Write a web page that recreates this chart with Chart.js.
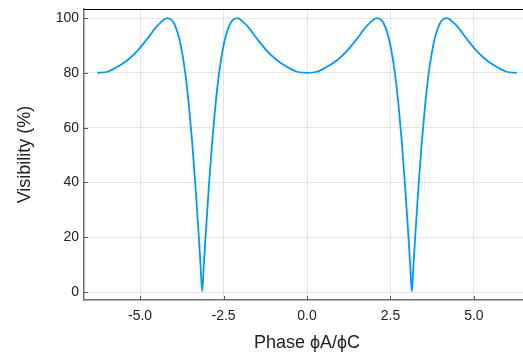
<!DOCTYPE html>
<html lang="en">
<head>
<meta charset="UTF-8">
<title>Visibility vs Phase</title>
<script src="https://cdn.jsdelivr.net/npm/chart.js@4.4.0/dist/chart.umd.min.js"></script>
<style>
  html, body { margin: 0; padding: 0; background: #fff; overflow: hidden; }
  #chart { display: block; }
</style>
</head>
<body>
<canvas id="chart" width="530" height="356"></canvas>
<script>
// values
const phase = [
  -6.28, -5.98, -5.68, -5.38, -5.08, -4.78, -4.48, -4.18, -4.04, -3.94, -3.84, -3.74, -3.64, -3.54, -3.44, -3.34, -3.24, -3.19, -3.14,
  -3.09, -3.04, -2.94, -2.84, -2.74, -2.64, -2.54, -2.44, -2.34, -2.24, -2.10, -1.80, -1.50, -1.20, -0.90, -0.60, -0.30, 0.00,
  0.30, 0.60, 0.90, 1.20, 1.50, 1.80, 2.10, 2.24, 2.34, 2.44, 2.54, 2.64, 2.74, 2.84, 2.94, 3.04, 3.09, 3.14,
  3.19, 3.24, 3.34, 3.44, 3.54, 3.64, 3.74, 3.84, 3.94, 4.04, 4.18, 4.48, 4.78, 5.08, 5.38, 5.68, 5.98, 6.28
];
const visibility = [
  80.0, 80.4, 82.2, 84.6, 88.0, 92.5, 97.2, 100.0, 99.1, 96.9, 93.2, 87.4, 79.3, 68.4, 54.8, 38.5, 20.0, 10.0, 0.3,
  10.0, 20.0, 38.5, 54.8, 68.4, 79.3, 87.4, 93.2, 96.9, 99.1, 100.0, 97.2, 92.5, 88.0, 84.6, 82.2, 80.4, 80.0,
  80.4, 82.2, 84.6, 88.0, 92.5, 97.2, 100.0, 99.1, 96.9, 93.2, 87.4, 79.3, 68.4, 54.8, 38.5, 20.0, 10.0, 0.3,
  10.0, 20.0, 38.5, 54.8, 68.4, 79.3, 87.4, 93.2, 96.9, 99.1, 100.0, 97.2, 92.5, 88.0, 84.6, 82.2, 80.4, 80.0
];
const xTicks = [-5, -2.5, 0, 2.5, 5];
const yTicks = [0, 20, 40, 60, 80, 100];

const FONT = "'Liberation Sans', Arial, sans-serif";

// top frame line and small inward tick marks
const frame = {
  id: 'frame',
  afterDraw(chart) {
    const { ctx, chartArea: a, scales } = chart;
    ctx.save();
    ctx.strokeStyle = '#000';
    ctx.lineWidth = 1.2;
    ctx.beginPath();
    ctx.moveTo(a.left, a.top + 0.5);
    ctx.lineTo(a.right, a.top + 0.5);
    ctx.stroke();

    ctx.strokeStyle = '#555';
    ctx.lineWidth = 1;
    ctx.beginPath();
    xTicks.forEach(v => {
      const px = Math.round(scales.x.getPixelForValue(v)) + 0.5;
      ctx.moveTo(px, a.bottom);
      ctx.lineTo(px, a.bottom - 4);
    });
    yTicks.forEach(v => {
      const py = Math.round(scales.y.getPixelForValue(v)) + 0.5;
      ctx.moveTo(a.left, py);
      ctx.lineTo(a.left + 4, py);
    });
    ctx.stroke();
    ctx.restore();
  }
};

new Chart(document.getElementById('chart'), {
  type: 'line',
  data: {
    datasets: [{
      data: phase.map((p, i) => ({ x: p, y: visibility[i] })),
      borderColor: '#009AFA',
      borderWidth: 1.8,
      pointRadius: 0,
      cubicInterpolationMode: 'monotone',
      fill: false
    }]
  },
  options: {
    responsive: false,
    animation: false,
    devicePixelRatio: 1,
    layout: { padding: { top: 9, left: 0, right: 0, bottom: 0 } },
    plugins: { legend: { display: false }, tooltip: { enabled: false } },
    scales: {
      x: {
        type: 'linear',
        min: -6.68,
        max: 6.68,
        afterBuildTicks: s => { s.ticks = xTicks.map(v => ({ value: v })); },
        afterFit: s => { s.height = 56; s.paddingLeft = 0; s.paddingRight = 0; },
        grid: { color: 'rgba(0,0,0,0.1)', drawTicks: false },
        border: { color: '#707070', width: 1.5 },
        ticks: {
          padding: 8,
          color: '#222',
          font: { family: FONT, size: 14 },
          callback: v => v.toFixed(1)
        },
        title: {
          display: true,
          text: 'Phase ϕA/ϕC',
          color: '#222',
          font: { family: FONT, size: 18 },
          padding: { top: 0, bottom: 2 }
        }
      },
      y: {
        min: -2.9,
        max: 103.3,
        afterBuildTicks: s => { s.ticks = yTicks.map(v => ({ value: v })); },
        afterFit: s => { s.width = 84; s.paddingTop = 0; s.paddingBottom = 0; },
        grid: { color: 'rgba(0,0,0,0.1)', drawTicks: false },
        border: { color: '#707070', width: 1.5 },
        ticks: {
          padding: 5,
          color: '#222',
          font: { family: FONT, size: 14 }
        },
        title: {
          display: true,
          text: 'Visibility (%)',
          color: '#222',
          font: { family: FONT, size: 18 },
          padding: { top: 14, bottom: 0 }
        }
      }
    }
  },
  plugins: [frame]
});
</script>
</body>
</html>
